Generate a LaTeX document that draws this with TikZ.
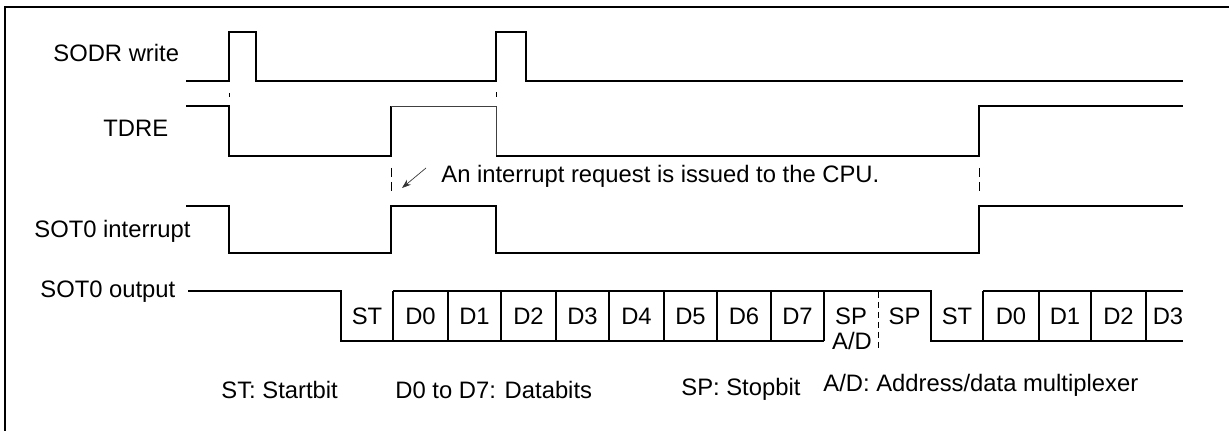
\documentclass[tikz,border=0pt]{standalone}
\usepackage{fontspec}
\setmainfont{Liberation Sans}
\usetikzlibrary{arrows.meta}

\begin{document}
\begin{tikzpicture}[x=0.5pt,y=-0.5pt,
    wave/.style={line width=0.8pt},
    faintwave/.style={line width=0.45pt,black!75},
    guide/.style={line width=0.5pt,dash pattern=on 4.5pt off 2.5pt},
    siglabel/.style={anchor=base west,inner sep=0pt,
      font=\fontsize{11.9}{14}\selectfont},
    bitlabel/.style={anchor=base,inner sep=0pt,
      font=\fontsize{11.9}{14}\selectfont}]
  \useasboundingbox (0,0) rectangle (1229,431);

  % frame, cut off at the right and at the bottom
  \draw[wave] (5,431) |- (1229,7);

  % signal names
  \node[siglabel] (sodr) at (53,61.5) {SODR write};
  \node[siglabel] (tdre) at (103,137) {TDRE};
  \node[siglabel] (sotint) at (34,238) {SOT0 interrupt};
  \node[siglabel] (sotout) at (40,297.5) {SOT0 output};

  % SODR write
  \draw[wave] (186,81) -- (229,81) -- (229,32) -- (256,32) -- (256,81)
    -- (496,81) -- (496,32) -- (526,32) -- (526,81) -- (1183,81);

  % TDRE
  \draw[wave] (186,106) -- (229,106) -- (229,156) -- (391,156) -- (391,106);
  \draw[faintwave] (391,106) -- (496,106) -- (496,156);
  \draw[wave] (496,156) -- (979,156) -- (979,106) -- (1183,106);

  % SOT0 interrupt
  \draw[wave] (186,206) -- (229,206) -- (229,253) -- (391,253) -- (391,206)
    -- (496,206) -- (496,253) -- (979,253) -- (979,206) -- (1183,206);

  % guides between the waves
  \draw[line width=0.5pt] (229,93) -- (229,97.5);
  \draw[line width=0.5pt] (496,92.5) -- (496,97);
  \draw[guide] (391,168) -- (391,192);
  \draw[guide] (979,168) -- (979,194);

  % interrupt note
  \coordinate (irqtail) at (426,168);
  \coordinate (irqhead) at (402,188);
  \draw[-{Stealth[length=4.5pt,width=3.2pt]},line width=0.35pt,black!80]
    (irqtail) -- (irqhead);
  \node[siglabel] (irqnote) at (441,183)
    {An interrupt request is issued to the CPU.};

  % SOT0 output
  \draw[wave] (188,291) -- (341,291) -- (341,341) -- (824,341);
  \draw[wave] (393,291) -- (931,291) -- (931,341) -- (1183,341);
  \draw[wave] (983,291) -- (1183,291);
  \foreach \xb in {393,448,501,556,609,664,717,771,824,983,1039,1091,1146}
    \draw[wave] (\xb,291) -- (\xb,341);
  \draw[line width=0.5pt,dash pattern=on 3pt off 2pt] (878,292) -- (878,348);

  \foreach \xa/\xb/\bit [count=\i] in {341/393/ST,393/448/D0,448/501/D1,
      501/556/D2,556/609/D3,609/664/D4,664/717/D5,717/771/D6,771/824/D7,
      824/878/SP,878/931/SP,931/983/ST,983/1039/D0,1039/1091/D1,
      1091/1146/D2,1146/1190/D3}
    \node[bitlabel] (bit\i) at ({(\xa+\xb)/2},325) {\bit};
  \node[bitlabel] (adflag) at (852,350) {A/D};

  % legend
  \node[siglabel] (lgst) at (221,399) {ST: Startbit};
  \node[siglabel] (lgdata) at (395,399) {D0 to D7: Databits};
  \node[siglabel] (lgsp) at (681,396) {SP: Stopbit};
  \node[siglabel] (lgad) at (823,392) {A/D: Address/data multiplexer};
\end{tikzpicture}
\end{document}
